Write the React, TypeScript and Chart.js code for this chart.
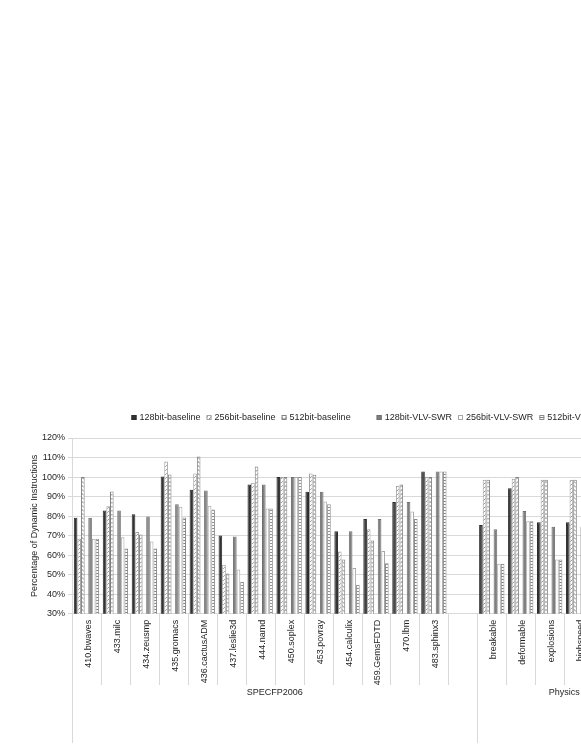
import React, { useEffect, useRef } from "react";
import { Chart, registerables } from "chart.js";

Chart.register(...registerables);

const categories = [
  "410.bwaves", "433.milc", "434.zeusmp", "435.gromacs", "436.cactusADM",
  "437.leslie3d", "444.namd", "450.soplex", "453.povray", "454.calculix",
  "459.GemsFDTD", "470.lbm", "483.sphinx3", "",
  "breakable", "deformable", "explosions", "highspeed", "periodic", "ragdoll",
];

const groupLabels = ["SPECFP2006", "Physics"];
const groupSizes = [14, 6];

const seriesLabels = [
  "128bit-baseline", "256bit-baseline", "512bit-baseline", "",
  "128bit-VLV-SWR", "256bit-VLV-SWR", "512bit-VLV-SWR",
];

const baseline128 = [79.1, 82.9, 80.9, 100.3, 93.5, 70.1, 96.2, 100, 92.5, 72.2, 78.5, 87.2, 102.9, null, 75.4, 94.2, 76.9, 76.9, 80, 78];
const baseline256 = [68.4, 85.0, 71.8, 108.0, 101.8, 55.1, 97.1, 100, 101.8, 61.9, 73.2, 95.5, 100, null, 98.6, 99.1, 98.6, 98.6, 99, 99];
const baseline512 = [100, 92.6, 70.6, 101.3, 110.5, 50.6, 105.4, 100, 101.2, 57.8, 67.5, 96.2, 100, null, 98.6, 100, 98.6, 98.6, 99, 99];
const emptySeries = categories.map(() => null);
const vlv128 = [79.1, 82.9, 79.8, 86.1, 93.1, 69.6, 96.2, 100, 92.5, 72.2, 78.5, 87.2, 102.9, null, 73.3, 82.6, 74.5, 74.7, 78, 76];
const vlv256 = [68.4, 69.1, 67.0, 84.8, 85.3, 52.7, 83.9, 100, 87.5, 53.4, 62.1, 82.4, 102.9, null, 55.6, 77.3, 57.8, 57.8, 60, 58];
const vlv512 = [68.4, 63.4, 63.4, 79.3, 83.4, 46.2, 83.9, 100, 86.1, 44.8, 55.8, 78.5, 102.9, null, 55.6, 77.3, 57.8, 57.8, 60, 58];

const yMin = 30;
const yMax = 120;
const yStep = 10;

const FONT = '"Liberation Sans", Arial, sans-serif';
const TEXT = "#1f1f1f";
const LINE = "#d9d9d9";

function makePattern(kind: string): CanvasPattern | string {
  const c = document.createElement("canvas");
  const ctx = c.getContext("2d");
  if (!ctx) return "#fff";
  if (kind === "diag") {
    c.width = 4; c.height = 4;
    ctx.fillStyle = "#fff"; ctx.fillRect(0, 0, 4, 4);
    ctx.strokeStyle = "#9a9a9a"; ctx.lineWidth = 1;
    ctx.beginPath();
    ctx.moveTo(-1, 5); ctx.lineTo(5, -1);
    ctx.stroke();
  } else if (kind === "zigzag") {
    c.width = 4; c.height = 4;
    ctx.fillStyle = "#fff"; ctx.fillRect(0, 0, 4, 4);
    ctx.strokeStyle = "#6e6e6e"; ctx.lineWidth = 1;
    ctx.beginPath();
    ctx.moveTo(0, 3.5); ctx.lineTo(2, 1.5); ctx.lineTo(4, 3.5);
    ctx.stroke();
  } else {
    c.width = 2; c.height = 3;
    ctx.fillStyle = "#fff"; ctx.fillRect(0, 0, 2, 3);
    ctx.fillStyle = "#7f7f7f"; ctx.fillRect(0, 0, 2, 1);
  }
  return ctx.createPattern(c, "repeat") || "#fff";
}

export default function App() {
  const ref = useRef<HTMLCanvasElement | null>(null);

  useEffect(() => {
    const canvas = ref.current;
    if (!canvas) return;

    const fills = [
      "#333333",
      makePattern("diag"),
      makePattern("zigzag"),
      "rgba(0,0,0,0)",
      "#7f7f7f",
      "#ffffff",
      makePattern("hlines"),
    ];
    const borders = ["#2b2b2b", "#a0a0a0", "#808080", "rgba(0,0,0,0)", "#6f6f6f", "#a6a6a6", "#8a8a8a"];
    const values = [baseline128, baseline256, baseline512, emptySeries, vlv128, vlv256, vlv512];

    const extras = {
      id: "extras",
      afterDraw(chart: any) {
        const ctx = chart.ctx;
        const xs = chart.scales.x;
        const n = categories.length;
        const cw = (xs.right - xs.left) / n;
        const bottom = chart.chartArea.bottom;
        ctx.save();
        const groupBounds = new Set<number>();
        let acc = 0;
        groupBounds.add(0);
        groupSizes.forEach((s) => { acc += s; groupBounds.add(acc); });
        ctx.strokeStyle = LINE;
        ctx.lineWidth = 1;
        for (let i = 0; i <= n; i++) {
          const x = Math.round(xs.left + i * cw) + 0.5;
          const end = groupBounds.has(i) ? 743 : 685;
          ctx.beginPath();
          ctx.moveTo(x, bottom);
          ctx.lineTo(x, end);
          ctx.stroke();
        }
        ctx.fillStyle = TEXT;
        ctx.font = `9px ${FONT}`;
        ctx.textAlign = "center";
        ctx.textBaseline = "middle";
        let start = 0;
        groupLabels.forEach((g, gi) => {
          const center = xs.left + (start + groupSizes[gi] / 2) * cw;
          ctx.fillText(g, center, 693);
          start += groupSizes[gi];
        });
        ctx.textAlign = "left";
        let x = 131.5;
        const y = 418;
        seriesLabels.forEach((lab, i) => {
          if (!lab) { x += 20; return; }
          ctx.fillStyle = fills[i];
          ctx.fillRect(x, y - 3, 5, 5);
          ctx.strokeStyle = borders[i];
          ctx.strokeRect(x + 0.5, y - 2.5, 4, 4);
          ctx.fillStyle = TEXT;
          ctx.fillText(lab, x + 8, y);
          x += 8 + ctx.measureText(lab).width + 6;
        });
        ctx.restore();
      },
    };

    const chart = new Chart(canvas, {
      type: "bar",
      data: {
        labels: categories,
        datasets: seriesLabels.map((lab, i) => ({
          label: lab,
          data: values[i],
          backgroundColor: fills[i],
          borderColor: borders[i],
          borderWidth: i === 3 ? 0 : 1,
          categoryPercentage: 0.875,
          barPercentage: 1,
        })),
      },
      options: {
        responsive: false,
        animation: false,
        layout: { padding: { top: 438, left: 0, right: 83, bottom: 0 } },
        plugins: {
          legend: { display: false },
          tooltip: { enabled: false },
        },
        scales: {
          x: {
            grid: { display: false, drawTicks: false },
            border: { display: true, color: LINE, width: 1 },
            ticks: {
              autoSkip: false,
              maxRotation: 90,
              minRotation: 90,
              padding: 6,
              labelOffset: 2,
              color: TEXT,
              font: { size: 9, family: FONT },
            },
            afterFit: (s: any) => { s.height = 752 - 613.7; },
          },
          y: {
            min: yMin,
            max: yMax,
            ticks: {
              stepSize: yStep,
              padding: 3,
              color: TEXT,
              font: { size: 9, family: FONT },
              callback: (v: any) => `${v}%`,
            },
            grid: { color: LINE, drawTicks: true, tickLength: 4, tickColor: LINE },
            border: { display: true, color: LINE, width: 1 },
            title: {
              display: true,
              text: "Percentage of Dynamic Instructions",
              color: TEXT,
              font: { size: 9, family: FONT },
              padding: { top: 29, bottom: 0 },
            },
            afterFit: (s: any) => { s.width = 72; },
          },
        },
      },
      plugins: [extras],
    });

    return () => chart.destroy();
  }, []);

  return (
    <div style={{ position: "absolute", left: 0, top: 0, width: 581, height: 752, overflow: "hidden", background: "#fff" }}>
      <canvas ref={ref} width={734} height={752} style={{ display: "block", width: 734, height: 752 }} />
    </div>
  );
}
